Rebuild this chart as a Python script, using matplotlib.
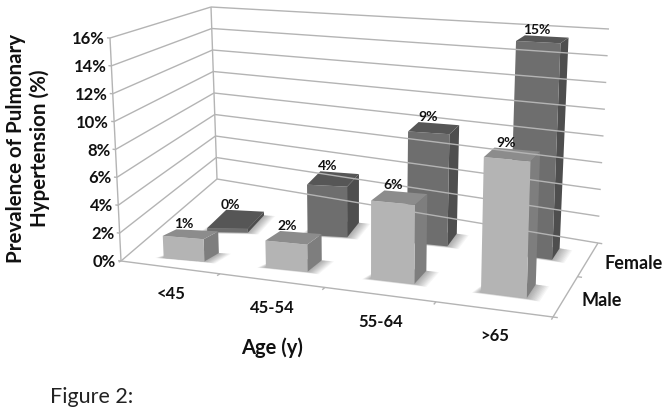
import numpy as np
import matplotlib
matplotlib.use('Agg')
from matplotlib import pyplot as plt

ages = ['<45', '45-54', '55-64', '>65']
sexes = ['Male', 'Female']
male_labels = ['1%', '2%', '6%', '9%']
female_labels = ['0%', '4%', '9%', '15%']
male_values = [1.6, 1.9, 5.4, 9.05]
female_values = [0.3, 3.9, 8.4, 15.6]
yticks = [0, 2, 4, 6, 8, 10, 12, 14, 16]

plt.rcParams['font.family'] = ['Lato', 'DejaVu Sans']

# chart box corners on the canvas: front-left, front-right, back-right, back-left
floor_px = np.array([(121, 261), (553, 317), (598, 243), (217, 179)], dtype=float)
top_px = np.array([(110, 38), (561, 65), (609, 29), (211, 7)], dtype=float)


def corners(c, s, t):
    front = c[0] + (c[1] - c[0]) * s
    back = c[3] + (c[2] - c[3]) * s
    return front + (back - front) * t


def proj(pts):
    pts = np.atleast_2d(np.array(pts, dtype=float))
    s0 = pts[:, :1] / 4.0
    t = pts[:, 1:2] / 2.0
    # foreshortening along both floor directions
    s = s0 + 0.112 * s0 * (s0 - 1)
    t = t - 0.18 * t * (t - 1)
    # depth runs shorter and leans right towards the left of the chart
    left = (1 - s0) ** 2 * (1 - t ** 4)
    t = t * (1 - 0.6 * left)
    s = s + 0.15 * t * left
    a = corners(floor_px, s, t)
    b = corners(top_px, s, t)
    return a + (b - a) * pts[:, 2:] / 16.0


def line3d(a, b, **kw):
    p = proj([a, b])
    ax.plot(p[:, 0], p[:, 1], solid_capstyle='butt', **kw)


def bar(xc, yc, h, front, side, top, label):
    x0, x1 = xc - width / 2, xc + width / 2
    y0, y1 = yc - depth / 2, yc + depth / 2
    # soft shadow on the floor
    for grow in np.linspace(0.12, 0.01, 10):
        s = proj([(x0 - grow * 0.6, y0 - grow * 0.3, 0), (x1 + grow, y0 - grow * 0.3, 0),
                  (x1 + grow, y1, 0), (x0, y1, 0)])
        ax.fill(s[:, 0], s[:, 1], color='black', alpha=0.035, lw=0)
    f = proj([(x0, y0, 0), (x1, y0, 0), (x1, y0, h), (x0, y0, h)])
    r = proj([(x1, y0, 0), (x1, y1, 0), (x1, y1, h), (x1, y0, h)])
    t = proj([(x0, y0, h), (x1, y0, h), (x1, y1, h), (x0, y1, h)])
    ax.fill(r[:, 0], r[:, 1], color=side, lw=0)
    ax.fill(f[:, 0], f[:, 1], color=front, lw=0)
    ax.fill(t[:, 0], t[:, 1], color=top, lw=0)
    c = t.mean(axis=0)
    ax.text(c[0] - 6, t[:, 1].min() + 1, label, fontsize=10, fontweight='bold',
            ha='center', va='bottom', color='#111111', zorder=5)


fig = plt.figure(figsize=(6.7, 4.16), dpi=100)
ax = fig.add_axes([0, 0, 1, 1])
ax.set_xlim(0, 670)
ax.set_ylim(416, 0)
ax.axis('off')

grid = '#b4b4b4'
for v in yticks:
    line3d((0, 0, v), (0, 2, v), color=grid, lw=1)
    line3d((0, 2, v), (4, 2, v), color=grid, lw=1)
    line3d((0, 0, v), (-0.03, 0, v), color=grid, lw=1)
    p = proj((0, 0, v))[0]
    ax.text(p[0] - 5, p[1] + 1, '%d%%' % v, fontsize=12, fontweight='bold', ha='right', va='center', color='#111111')
line3d((0, 0, 0), (0, 0, 16), color=grid, lw=1)
line3d((0, 2, 0), (0, 2, 16), color=grid, lw=1)
line3d((0, 0, 0), (4, 0, 0), color=grid, lw=1)
line3d((4, 0, 0), (4, 2, 0), color=grid, lw=1)

for i in range(5):
    line3d((i, 0, 0), (i, -0.06, 0), color=grid, lw=1)
for i in range(3):
    line3d((4, i, 0), (4.04, i, 0), color=grid, lw=1)

for i in range(len(ages)):
    p = proj((i + 0.5, 0, 0))[0]
    ax.text(p[0] + 1, p[1] + 27, ages[i], fontsize=12, fontweight='bold', ha='center', va='center', color='#111111')
for i in range(len(sexes)):
    p = proj((4, i + 0.5, 0))[0]
    ax.text(p[0] + 16, p[1] + 4, sexes[i], fontsize=13, fontweight='bold', ha='left', va='center', color='#111111')

width = 0.4
depth = 0.34
for i in range(len(ages)):
    bar(i + 0.5, 1.5, female_values[i], '#6e6e6e', '#4e4e4e', '#565656', female_labels[i])
for i in range(len(ages)):
    bar(i + 0.5, 0.5, male_values[i], '#b4b4b4', '#7e7e7e', '#8c8c8c', male_labels[i])

ax.text(16, 148, 'Prevalence of Pulmonary', rotation=90, fontsize=14.8, fontweight='bold', ha='center', va='center', color='#111111')
ax.text(40, 148, 'Hypertension (%)', rotation=90, fontsize=14.8, fontweight='bold', ha='center', va='center', color='#111111')
ax.text(272, 348, 'Age (y)', fontsize=14.5, fontweight='bold', ha='center', va='center', color='#111111')
ax.text(50, 397, 'Figure 2:', fontsize=15.5, ha='left', va='center', color='#222222')

fig.savefig('out.png', dpi=100)
